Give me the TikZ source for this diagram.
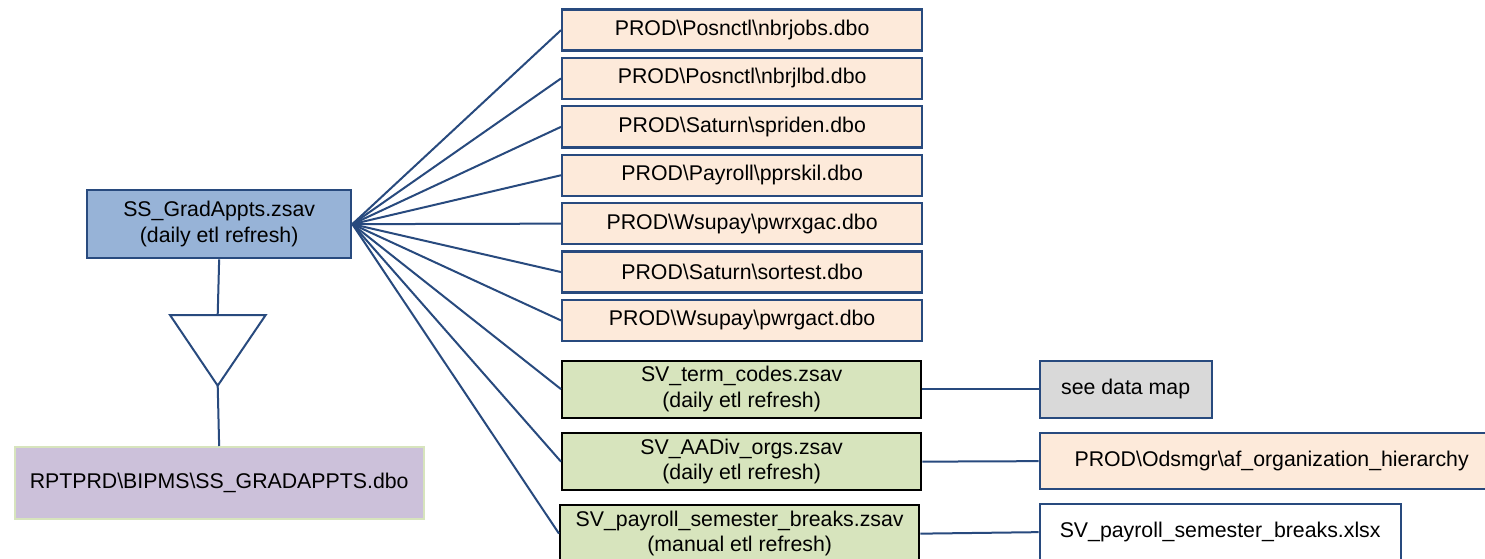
\documentclass[tikz,border=0pt]{standalone}
\usepackage{fontspec}
\setmainfont{Liberation Sans}
\definecolor{lnblue}{HTML}{284A7E}
\definecolor{ssblue}{HTML}{97B3D7}
\definecolor{peach}{HTML}{FDEADA}
\definecolor{grn}{HTML}{D7E4BD}
\definecolor{gry}{HTML}{D9D9D9}
\definecolor{purp}{HTML}{CCC1DA}
\definecolor{purpbd}{HTML}{D7E4BD}
\tikzset{
  box/.style={draw=lnblue, line width=2.3pt, inner sep=0pt, align=center,
    font=\fontsize{21.3}{25.5}\selectfont, anchor=north west},
  src/.style={box, fill=peach, minimum width=360pt, minimum height=41pt},
  sv/.style={box, draw=black, fill=grn, minimum width=359pt, minimum height=57pt},
  conn/.style={draw=lnblue, line width=2pt}
}
\begin{document}
\begin{tikzpicture}[x=1pt,y=-1pt]
\useasboundingbox (0,0) rectangle (1485,559);
\clip (0,0) rectangle (1485,559);
% left column
\node[box, fill=ssblue, minimum width=264pt, minimum height=68pt] (ss) at (86,189) {SS\_GradAppts.zsav\\(daily etl refresh)};
\node[box, draw=purpbd, fill=purp, minimum width=409pt, minimum height=72pt] (rpt) at (13.5,446) {RPTPRD\textbackslash BIPMS\textbackslash SS\_GRADAPPTS.dbo};
\coordinate (tritop) at (217.7,315);
\coordinate (triapex) at (217.7,385.7);
\draw[conn] (170,315) -- (265.7,315) -- (triapex) -- cycle;
\draw[conn] (ss.south) -- (tritop);
\draw[conn] (triapex) -- (rpt.north);
% source boxes
\node[src] (p1) at (561,8.5) {PROD\textbackslash Posnctl\textbackslash nbrjobs.dbo};
\node[src] (p2) at (561,56.8) {PROD\textbackslash Posnctl\textbackslash nbrjlbd.dbo};
\node[src] (p3) at (561,105.2) {PROD\textbackslash Saturn\textbackslash spriden.dbo};
\node[src] (p4) at (561,153.6) {PROD\textbackslash Payroll\textbackslash pprskil.dbo};
\node[src] (p5) at (561,202) {PROD\textbackslash Wsupay\textbackslash pwrxgac.dbo};
\node[src] (p6) at (561,250.4) {PROD\textbackslash Saturn\textbackslash sortest.dbo};
\node[src] (p7) at (561,298.8) {PROD\textbackslash Wsupay\textbackslash pwrgact.dbo};
\node[sv] (s1) at (561,359.5) {SV\_term\_codes.zsav\\(daily etl refresh)};
\node[sv] (s2) at (561,432) {SV\_AADiv\_orgs.zsav\\(daily etl refresh)};
\node[sv] (s3) at (559,504) {SV\_payroll\_semester\_breaks.zsav\\(manual etl refresh)};
% right boxes
\node[box, fill=gry, minimum width=172pt, minimum height=57pt] (dm) at (1038.5,359.5) {see data map};
\node[box, fill=peach, minimum width=464pt, minimum height=56pt] (org) at (1038.5,432) {PROD\textbackslash Odsmgr\textbackslash af\_organization\_hierarchy};
\node[box, fill=white, minimum width=361pt, minimum height=56pt] (xl) at (1038.5,503) {SV\_payroll\_semester\_breaks.xlsx};
% connectors
\foreach \t in {p1,p2,p3,p4,p5,p6,p7,s1,s2,s3}
  \draw[conn] (ss.east) -- (\t.west);
\draw[conn] (s1.east) -- (dm.west);
\draw[conn] (s2.east) -- (org.west);
\draw[conn] (s3.east) -- (xl.west);
\end{tikzpicture}
\end{document}
